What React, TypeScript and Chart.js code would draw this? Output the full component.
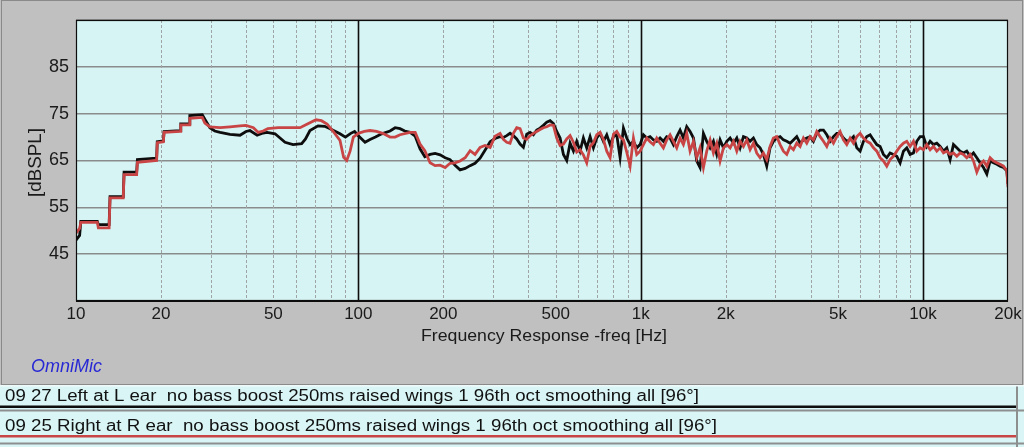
import React, { useEffect, useRef } from "react";
import { Chart, registerables } from "chart.js";

Chart.register(...registerables);

// ---------------- data ----------------
const leftLabel = "09 27 Left at L ear  no bass boost 250ms raised wings 1 96th oct smoothing all [96°]";
const rightLabel = "09 25 Right at R ear  no bass boost 250ms raised wings 1 96th oct smoothing all [96°]";

const leftLowFreq = [10, 10.3, 10.4, 11.9, 12.0, 13.1, 13.2, 14.7, 14.8, 16.4, 16.5, 19.3, 19.4, 20.4, 20.5, 23.4, 23.5, 25.2, 25.3, 28.0,
  28.6, 29.8, 31.0, 32.4, 35.1, 38.1, 40.0, 41.3, 43.8, 45.5, 47.5, 50.7, 55.0, 58.7, 63.0, 65.0, 67.4, 72.0, 76.0, 79.4,
  86.1, 90, 94, 97, 100, 105.6, 110, 115, 121, 129.5, 135, 140.5, 146, 152.5, 159, 165.4, 172, 179.5, 187, 194.8,
  203, 211.3, 220, 229.3, 239, 248.8, 259, 269.9, 281, 292.9, 305];
const leftLowDb = [48.0, 49.0, 52.0, 52.0, 51.3, 51.3, 57.3, 57.3, 62.5, 62.5, 65.2, 65.5, 69.0, 69.2, 71.2, 71.4, 72.8, 72.8, 74.6, 74.8,
  73.8, 72.0, 71.3, 71.0, 70.6, 70.4, 71.2, 71.4, 70.4, 70.8, 71.0, 70.7, 68.9, 68.4, 68.6, 69.6, 71.4, 72.4, 72.3, 71.8,
  70.7, 70.0, 70.8, 71.2, 70.3, 68.9, 69.5, 70.0, 70.7, 71.3, 72.0, 71.8, 71.3, 71.0, 70.2, 67.5, 65.8, 66.3, 66.5, 66.2,
  65.6, 65.2, 64.0, 63.0, 63.3, 63.9, 64.4, 65.5, 67.2, 69.0, 69.7];

const rightLowFreq = [10, 10.3, 10.4, 11.9, 12.0, 13.1, 13.2, 14.7, 14.8, 16.4, 16.5, 19.3, 19.4, 20.4, 20.5, 23.4, 23.5, 25.2, 25.3, 28.0,
  28.6, 29.8, 32.4, 35.1, 38.1, 40.0, 42.5, 44.2, 46, 47.8, 52, 57.3, 62.2, 66, 70.8, 74, 77.5, 81, 86.1, 88.7,
  91, 93.5, 96, 100, 105, 110, 116, 122, 129.5, 135, 140.5, 152.5, 159, 165.4, 172, 179.5, 187, 194.8, 203, 211.3,
  220, 229.3, 239, 248.8, 259, 269.9, 281, 292.9, 305];
const rightLowDb = [49.5, 50.5, 51.8, 51.8, 50.6, 50.6, 57.0, 57.0, 62.0, 62.0, 64.6, 65.0, 68.8, 69.0, 71.0, 71.2, 72.6, 72.6, 74.0, 74.2,
  73.0, 72.2, 72.0, 72.2, 72.4, 72.5, 72.0, 71.0, 71.3, 71.8, 72.0, 72.0, 72.0, 72.8, 73.7, 73.5, 72.8, 71.4, 69.3, 65.7,
  65.0, 67.0, 70.0, 70.8, 71.2, 71.4, 71.2, 70.8, 70.0, 70.0, 70.5, 71.0, 71.0, 68.5, 67.1, 64.5, 63.9, 64.0, 63.5, 64.4,
  64.5, 64.9, 65.6, 67.1, 66.3, 67.8, 68.2, 67.8, 70.2];

const hfFreq = [
  317.7, 326.4, 335.4, 344.6, 354.1, 363.9, 374.0, 384.2, 394.8, 405.8,
  416.9, 428.4, 440.3, 452.3, 464.9, 477.7, 490.8, 504.3, 518.3, 532.6,
  547.2, 562.3, 577.8, 593.7, 610.1, 626.8, 644.1, 662.0, 680.2, 698.9,
  718.3, 738.1, 758.4, 779.3, 800.8, 822.8, 845.5, 868.8, 892.7, 917.4,
  942.6, 968.5, 995.2, 1022.6, 1050.7, 1079.6, 1109.4, 1139.9, 1171.2, 1203.5,
  1236.6,
  1271, 1306, 1342, 1379, 1417, 1456, 1496, 1538, 1580, 1623,
  1668, 1714, 1762, 1810, 1860, 1911, 1964, 2018, 2074, 2131,
  2190, 2250, 2312, 2376, 2441, 2508, 2577, 2648, 2721, 2796,
  2873, 2952, 3034, 3118, 3203, 3292, 3383, 3476, 3571, 3670,
  3771, 3875, 3982, 4091, 4204, 4321, 4440, 4562, 4688, 4817,
  4950,
  5086, 5226, 5370, 5519, 5671, 5827, 5988, 6153, 6323, 6497,
  6676, 6860, 7047, 7241, 7441, 7646, 7857, 8074, 8297, 8525,
  8760, 9001, 9250, 9504, 9766, 10035, 10312, 10598, 10890, 11190,
  11497, 11815, 12140, 12474, 12818, 13171, 13534, 13908, 14291, 14689,
  15093, 15509, 15937, 16377, 16828, 17288, 17766, 18255, 18757, 19275,
  19806, 20000];

const leftHfDb = [
  70.1, 69.9, 70.3, 70.8, 70.3, 69.6, 68.5, 67.8, 70.6, 71.0,
  70.5, 71.5, 71.9, 72.5, 73.2, 73.5, 72.9, 71.2, 69.8, 66.3,
  65.0, 68.7, 67.0, 69.1, 67.0, 69.8, 67.7, 70.1, 67.7, 69.8,
  70.8, 69.1, 70.5, 68.4, 70.1, 70.5, 65.6, 71.9, 69.8, 68.4,
  69.1, 67.7, 68.4, 70.5, 69.8, 70.1, 69.4, 69.1, 69.8, 69.1,
  70.1,
  69.8, 68.4, 70.1, 71.5, 69.8, 72.2, 71.2, 69.8, 64.9, 63.5,
  70.8, 69.1, 67.7, 69.1, 66.3, 69.4, 67.7, 69.1, 69.8, 68.7,
  69.8, 67.7, 70.1, 69.8, 69.1, 69.8, 68.4, 67.7, 66.3, 63.8,
  67.7, 69.1, 69.8, 70.1, 69.4, 69.1, 68.7, 69.4, 70.1, 68.7,
  69.4, 69.8, 70.1, 69.1, 70.8, 71.5, 71.5, 70.5, 69.1, 70.1,
  70.8,
  70.8, 69.8, 69.1, 69.4, 70.1, 67.7, 67.0, 69.1, 70.1, 70.5,
  69.4, 68.4, 68.0, 66.3, 65.6, 66.6, 66.3, 65.9, 64.5, 67.0,
  67.7, 66.3, 66.6, 69.1, 70.1, 70.1, 68.0, 69.1, 68.4, 68.7,
  68.0, 67.0, 67.7, 65.2, 68.4, 67.7, 67.0, 66.6, 67.0, 65.9,
  66.6, 65.6, 64.5, 63.5, 62.1, 64.9, 64.5, 64.2, 63.8, 63.5,
  62.8, 60.0];

const rightHfDb = [
  70.8, 69.5, 68.9, 68.7, 70.8, 72.0, 71.8, 69.8, 69.5, 70.3,
  70.8, 71.2, 71.6, 72.0, 72.2, 72.6, 72.5, 69.8, 68.2, 68.5,
  69.6, 70.3, 68.9, 66.8, 67.3, 66.2, 64.5, 68.0, 68.8, 70.5,
  71.0, 69.5, 67.0, 65.6, 70.6, 71.2, 70.0, 69.4, 66.8, 63.8,
  69.8, 66.3, 67.0, 68.4, 69.8, 69.0, 68.4, 69.8, 68.7, 67.7,
  69.4,
  70.5, 69.1, 67.7, 69.8, 68.4, 70.8, 67.0, 69.1, 65.6, 67.7,
  63.5, 67.0, 69.4, 66.6, 68.7, 64.9, 67.7, 68.4, 67.7, 69.1,
  67.0, 69.1, 68.0, 69.4, 67.3, 68.7, 66.6, 65.6, 66.6, 65.2,
  68.0, 69.8, 70.1, 68.4, 67.0, 66.3, 68.0, 67.3, 68.7, 68.0,
  69.8, 68.7, 70.1, 69.4, 71.2, 70.1, 69.1, 68.0, 69.8, 68.7,
  70.1,
  71.2, 69.4, 68.4, 69.8, 68.7, 70.1, 70.8, 69.8, 69.1, 68.7,
  67.7, 67.0, 65.6, 64.9, 63.8, 65.2, 65.9, 67.0, 68.0, 68.7,
  69.1, 68.0, 69.1, 67.0, 67.7, 67.3, 68.4, 67.3, 68.0, 67.0,
  67.7, 66.6, 67.0, 66.3, 66.6, 65.9, 66.6, 66.3, 65.6, 66.3,
  64.9, 62.5, 64.2, 64.9, 63.8, 65.6, 64.9, 64.5, 64.2, 63.8,
  62.8, 59.3];

const xGridFreqs = [10, 20, 30, 40, 50, 60, 70, 80, 90, 100, 200, 300, 400, 500, 600, 700, 800, 900,
  1000, 2000, 3000, 4000, 5000, 6000, 7000, 8000, 9000, 10000, 20000];
const xMajorFreqs = [100, 1000, 10000];
const xLabelFreqs = [10, 20, 50, 100, 200, 500, 1000, 2000, 5000, 10000, 20000];
const xLabelText = ["10", "20", "50", "100", "200", "500", "1k", "2k", "5k", "10k", "20k"];
const yGridValues = [35, 45, 55, 65, 75, 85, 95];
const yLabelValues = [45, 55, 65, 75, 85];

const xTitle = "Frequency Response -freq [Hz]";
const yTitle = "[dBSPL]";
const brand = "OmniMic";

// ---------------- styles ----------------
const W = 1024;
const H = 447;
const AREA = { left: 76, right: 1008, top: 20, bottom: 301 };
const BLACK = "#0d0d0d";
const RED = "#c94545";
const PANEL = "#c0c0c0";
const PLOT_BG = "#d7f4f4";
const ROW_BG = "#d9f5f5";
const SEP = "#8d8f8f";
const SANS = '"Liberation Sans", Arial, sans-serif';

function toPoints(f: number[], v: number[]) {
  return f.map((x, i) => ({ x, y: v[i] }));
}

// draws text squeezed/stretched horizontally to a given width (narrow face look)
function fitText(ctx: CanvasRenderingContext2D, text: string, x: number, y: number, width: number) {
  const m = ctx.measureText(text).width;
  const sx = width / m;
  ctx.save();
  ctx.translate(x, y);
  ctx.scale(sx, 1);
  ctx.fillText(text, 0, 0);
  ctx.restore();
}

const decorPlugin = {
  id: "decor",
  beforeDraw(chart: any) {
    const ctx: CanvasRenderingContext2D = chart.ctx;
    const a = chart.chartArea;
    ctx.save();
    ctx.fillStyle = PANEL;
    ctx.fillRect(0, 0, W, 385);
    ctx.strokeStyle = "#8a8a8a";
    ctx.lineWidth = 1;
    ctx.strokeRect(1.5, 0.5, W - 3, 384);
    ctx.fillStyle = "#eef9f9";
    ctx.fillRect(0, 385, W, 1.5);
    ctx.fillStyle = ROW_BG;
    ctx.fillRect(0, 386.5, W, H - 386.5);
    ctx.fillStyle = PLOT_BG;
    ctx.fillRect(a.left, a.top, a.right - a.left, a.bottom - a.top);
    ctx.restore();
  },
  beforeDatasetsDraw(chart: any) {
    const ctx: CanvasRenderingContext2D = chart.ctx;
    const a = chart.chartArea;
    const xs = chart.scales.x;
    ctx.save();
    xGridFreqs.forEach((f) => {
      const px = Math.round(xs.getPixelForValue(f)) + 0.5;
      if (px <= a.left + 1 || px >= a.right - 1) return;
      ctx.beginPath();
      if (xMajorFreqs.includes(f)) {
        ctx.setLineDash([]);
        ctx.strokeStyle = BLACK;
        ctx.lineWidth = 1.6;
      } else {
        ctx.setLineDash([3, 2]);
        ctx.strokeStyle = "#a0a4a4";
        ctx.lineWidth = 1;
      }
      ctx.moveTo(px, a.top);
      ctx.lineTo(px, a.bottom);
      ctx.stroke();
    });
    ctx.restore();
  },
  afterDatasetsDraw(chart: any) {
    const ctx: CanvasRenderingContext2D = chart.ctx;
    const a = chart.chartArea;
    ctx.save();
    ctx.strokeStyle = BLACK;
    ctx.lineWidth = 1.2;
    ctx.strokeRect(a.left + 0.5, a.top + 0.5, a.right - a.left - 1, a.bottom - a.top - 1);
    ctx.lineWidth = 2;
    ctx.beginPath();
    ctx.moveTo(a.left, a.bottom);
    ctx.lineTo(a.right, a.bottom);
    ctx.stroke();
    ctx.restore();
  },
  afterDraw(chart: any) {
    const ctx: CanvasRenderingContext2D = chart.ctx;
    ctx.save();
    // axis titles
    ctx.fillStyle = "#1a1a1a";
    ctx.textBaseline = "alphabetic";
    ctx.textAlign = "left";
    ctx.font = `17px ${SANS}`;
    fitText(ctx, xTitle, 421, 341, 246);
    ctx.save();
    ctx.translate(41, 197);
    ctx.rotate(-Math.PI / 2);
    ctx.font = `18px ${SANS}`;
    fitText(ctx, yTitle, 0, 0, 69);
    ctx.restore();
    // brand
    ctx.fillStyle = "#2828d4";
    ctx.font = `italic 18px ${SANS}`;
    fitText(ctx, brand, 31, 372, 71);

    // legend rows
    const ds = chart.data.datasets;
    const rows = [
      { label: ds[1].label, color: ds[1].borderColor, textY: 401, lineY: 405.5, sepY: 409.5, width: 694 },
      { label: ds[0].label, color: ds[0].borderColor, textY: 431, lineY: 435, sepY: 442.5, width: 712 },
    ];
    rows.forEach((r) => {
      ctx.fillStyle = "#111";
      ctx.font = `16px ${SANS}`;
      fitText(ctx, r.label, 5, r.textY, r.width);
      ctx.fillStyle = r.color;
      ctx.fillRect(0, r.lineY, 1016, 2.5);
      ctx.fillStyle = SEP;
      ctx.fillRect(0, r.sepY, W, 2);
    });
    ctx.fillStyle = SEP;
    ctx.fillRect(1016, 386.5, 2, H - 386.5);
    ctx.restore();
  },
};

export default function App() {
  const ref = useRef<HTMLCanvasElement | null>(null);

  useEffect(() => {
    document.body.style.margin = "0";
    const canvas = ref.current;
    if (!canvas) return;
    const chart = new Chart(canvas, {
      type: "line",
      data: {
        datasets: [
          {
            label: rightLabel,
            data: toPoints([...rightLowFreq, ...hfFreq], [...rightLowDb, ...rightHfDb]),
            borderColor: RED,
            borderWidth: 2.8,
            pointRadius: 0,
            tension: 0,
            order: 0,
          },
          {
            label: leftLabel,
            data: toPoints([...leftLowFreq, ...hfFreq], [...leftLowDb, ...leftHfDb]),
            borderColor: BLACK,
            borderWidth: 2.8,
            pointRadius: 0,
            tension: 0,
            order: 1,
          },
        ],
      },
      options: {
        responsive: false,
        animation: false,
        devicePixelRatio: window.devicePixelRatio || 1,
        layout: { padding: { left: 0, top: AREA.top, right: W - AREA.right, bottom: 0 } },
        plugins: {
          legend: { display: false },
          tooltip: { enabled: false },
          title: { display: false },
        },
        scales: {
          x: {
            type: "logarithmic",
            min: 10,
            max: 20000,
            afterBuildTicks: (s: any) => {
              s.ticks = xGridFreqs.map((v) => ({ value: v }));
            },
            afterFit: (s: any) => {
              s.height = H - AREA.bottom;
            },
            grid: { display: false },
            border: { display: false },
            ticks: {
              autoSkip: false,
              maxRotation: 0,
              minRotation: 0,
              padding: -5,
              color: "#1a1a1a",
              font: { family: SANS, size: 17 },
              callback: (v: any) => {
                const i = xLabelFreqs.indexOf(Number(v));
                return i >= 0 ? xLabelText[i] : "";
              },
            },
          },
          y: {
            type: "linear",
            min: 35,
            max: 95,
            afterBuildTicks: (s: any) => {
              s.ticks = yGridValues.map((v) => ({ value: v }));
            },
            afterFit: (s: any) => {
              s.width = AREA.left;
            },
            grid: { color: "#8a8c8c", lineWidth: 1.6, drawTicks: false },
            border: { display: false },
            ticks: {
              padding: 7,
              color: "#1a1a1a",
              font: { family: SANS, size: 18 },
              callback: (v: any) => (yLabelValues.includes(Number(v)) ? String(v) : ""),
            },
          },
        },
      },
      plugins: [decorPlugin],
    } as any);
    return () => chart.destroy();
  }, []);

  return (
    <div style={{ width: W, height: H }}>
      <canvas ref={ref} width={W} height={H} style={{ display: "block", width: W, height: H }} />
    </div>
  );
}
